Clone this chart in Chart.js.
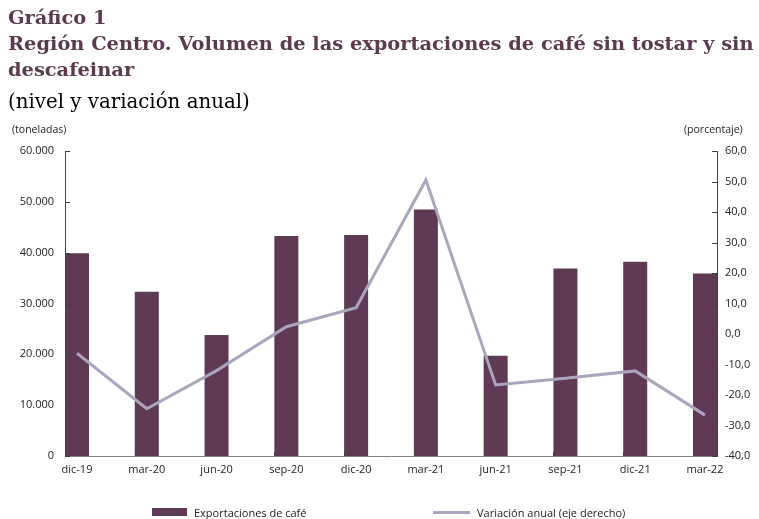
<!DOCTYPE html>
<html>
<head>
<meta charset="utf-8">
<script src="https://cdn.jsdelivr.net/npm/chart.js@4/dist/chart.umd.min.js"></script>
<style>
  html, body { margin: 0; padding: 0; background: #fff; }
  #wrap { position: relative; width: 759px; height: 519px; overflow: hidden; }
  #c { position: absolute; left: 0; top: 0; }
  .t { position: absolute; left: 8px; white-space: nowrap; font-family: "DejaVu Serif", serif; }
  .tb { font-weight: bold; color: #5B3A50; font-size: 19.4px; }
  .sub { color: #000; font-size: 19.8px; }
  .axl { position: absolute; top: 122px; font-family: "Open Sans", "Liberation Sans", sans-serif; font-size: 10.5px; color: #222; }
  .leg { position: absolute; top: 505px; font-family: "Open Sans", "Liberation Sans", sans-serif; font-size: 11px; color: #222; white-space: nowrap; }
  .sw { position: absolute; }
</style>
</head>
<body>
<div id="wrap">
  <canvas id="c" width="759" height="519"></canvas>
  <div class="t tb" style="top:6px;">Gráfico 1</div>
  <div class="t tb" style="top:32px;">Región Centro. Volumen de las exportaciones de café sin tostar y sin</div>
  <div class="t tb" style="top:58px;">descafeinar</div>
  <div class="t sub" style="top:90px;">(nivel y variación anual)</div>
  <div class="axl" style="left:12px;">(toneladas)</div>
  <div class="axl" style="left:684px;">(porcentaje)</div>
  <div id="legend"></div>
</div>
<script>
const categories = ["dic-19","mar-20","jun-20","sep-20","dic-20","mar-21","jun-21","sep-21","dic-21","mar-22"];
const exportaciones = [39900, 32300, 23800, 43300, 43500, 48500, 19700, 36900, 38200, 35900];
const variacion = [-6.3, -24.5, -12.0, 2.4, 8.6, 50.5, -16.7, -14.5, -12.1, -26.6];
const seriesNames = ["Exportaciones de café", "Variación anual (eje derecho)"];

const BAR_COLOR = "#603A55";
const LINE_COLOR = "#A9A5BC";
const AXIS_COLOR = "#404040";
const BAR_FRAC = 0.344;           // bar width as fraction of category spacing
const X_MIN = -BAR_FRAC / 2, X_MAX = categories.length - 1 + BAR_FRAC / 2;

const fmtThousands = v => Math.round(v).toString().replace(/\B(?=(\d{3})+(?!\d))/g, ".");
const fmtPct = v => v.toFixed(1).replace(".", ",");

const innerTicks = {
  id: "innerTicks",
  afterDatasetsDraw(chart) {
    const ctx = chart.ctx, a = chart.chartArea;
    const x = chart.scales.x, y = chart.scales.y, y1 = chart.scales.y1;
    ctx.save();
    ctx.strokeStyle = AXIS_COLOR;
    ctx.lineWidth = 1;
    ctx.beginPath();
    y.ticks.forEach(t => { const p = Math.round(y.getPixelForValue(t.value)) + 0.5; ctx.moveTo(a.left, p); ctx.lineTo(a.left + 5, p); });
    y1.ticks.forEach(t => { const p = Math.round(y1.getPixelForValue(t.value)) + 0.5; ctx.moveTo(a.right, p); ctx.lineTo(a.right - 5, p); });
    for (let i = 1; i < categories.length; i++) {
      const p = Math.round(x.getPixelForValue(X_MIN + i)) + 0.5;
      ctx.moveTo(p, a.bottom); ctx.lineTo(p, a.bottom - 4);
    }
    ctx.stroke();
    ctx.restore();
  }
};

const chart = new Chart(document.getElementById("c"), {
  type: "bar",
  data: {
    datasets: [
      {
        type: "line",
        label: seriesNames[1],
        data: variacion.map((v, i) => ({ x: i, y: v })),
        yAxisID: "y1",
        borderColor: LINE_COLOR,
        backgroundColor: LINE_COLOR,
        borderWidth: 3,
        pointRadius: 0,
        tension: 0,
        order: 0
      },
      {
        type: "bar",
        label: seriesNames[0],
        data: exportaciones.map((v, i) => ({ x: i, y: v })),
        yAxisID: "y",
        backgroundColor: BAR_COLOR,
        categoryPercentage: 1,
        barPercentage: BAR_FRAC,
        order: 1
      }
    ]
  },
  options: {
    responsive: false,
    animation: false,
    layout: { padding: { top: 151, left: 0, right: 0, bottom: 33 } },
    plugins: { legend: { display: false }, tooltip: { enabled: false } },
    scales: {
      x: {
        type: "linear",
        offset: false,
        min: X_MIN, max: X_MAX,
        afterBuildTicks: s => { s.ticks = categories.map((c, i) => ({ value: i })); },
        afterFit: s => { s.height = 30; },
        grid: { display: false, drawTicks: false, offset: false },
        border: { display: true, color: "#7f7f7f", width: 1 },
        ticks: {
          callback: (v) => categories[v],
          autoSkip: false, maxRotation: 0, padding: 7,
          color: "#222", font: { family: "'Open Sans', 'Liberation Sans', sans-serif", size: 11 }
        }
      },
      y: {
        position: "left",
        min: 0, max: 60000,
        afterFit: s => { s.width = 65; },
        grid: { display: false, drawTicks: false },
        border: { display: true, color: AXIS_COLOR, width: 1 },
        ticks: {
          stepSize: 10000, padding: 11,
          callback: v => fmtThousands(v),
          color: "#222", font: { family: "'Open Sans', 'Liberation Sans', sans-serif", size: 11 }
        }
      },
      y1: {
        position: "right",
        min: -40, max: 60,
        afterFit: s => { s.width = 42; },
        grid: { display: false, drawTicks: false },
        border: { display: true, color: AXIS_COLOR, width: 1 },
        ticks: {
          stepSize: 10, padding: 8,
          callback: v => fmtPct(v),
          color: "#222", font: { family: "'Open Sans', 'Liberation Sans', sans-serif", size: 11 }
        }
      }
    }
  },
  plugins: [innerTicks]
});

// HTML legend built from the chart datasets
const leg = document.getElementById("legend");
const barDs = chart.data.datasets[1], lineDs = chart.data.datasets[0];
leg.innerHTML =
  '<div class="sw" style="left:152px;top:508px;width:35px;height:8px;background:' + barDs.backgroundColor + '"></div>' +
  '<div class="leg" style="left:194px;">' + barDs.label + '</div>' +
  '<div class="sw" style="left:433px;top:511px;width:37px;height:3px;background:' + lineDs.borderColor + '"></div>' +
  '<div class="leg" style="left:477px;">' + lineDs.label + '</div>';
</script>
</body>
</html>
